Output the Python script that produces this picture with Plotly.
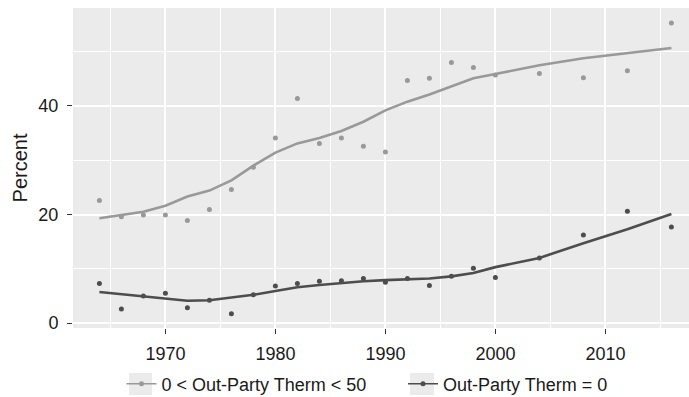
import plotly.graph_objects as go

# Survey years
years = [1964, 1966, 1968, 1970, 1972, 1974, 1976, 1978, 1980, 1982, 1984,
         1986, 1988, 1990, 1992, 1994, 1996, 1998, 2000, 2004, 2008, 2012, 2016]

# Share rating the out-party between 0 and 50 (points and smoothed trend)
cool_pts = [22.6, 19.6, 19.9, 19.9, 18.9, 20.9, 24.6, 28.7, 34.1, 41.4, 33.1,
            34.1, 32.6, 31.5, 44.7, 45.1, 48.0, 47.1, 45.7, 46.0, 45.2, 46.5, 55.3]
cool_fit = [19.3, 19.9, 20.5, 21.6, 23.3, 24.4, 26.3, 29.0, 31.4, 33.1, 34.1,
            35.4, 37.1, 39.2, 40.8, 42.1, 43.6, 45.1, 45.9, 47.5, 48.8, 49.7, 50.7]

# Share rating the out-party at exactly 0 (points and smoothed trend)
zero_pts = [7.3, 2.6, 5.0, 5.5, 2.8, 4.2, 1.7, 5.2, 6.8, 7.3, 7.7,
            7.8, 8.2, 7.5, 8.2, 6.9, 8.6, 10.1, 8.4, 12.0, 16.2, 20.6, 17.7]
zero_fit = [5.7, 5.3, 4.8, 4.4, 4.1, 4.2, 4.7, 5.2, 5.9, 6.6, 7.0,
            7.4, 7.7, 7.9, 8.0, 8.2, 8.6, 9.2, 10.3, 12.0, 14.7, 17.3, 20.1]

series_names = ["0 < Out-Party Therm < 50", "Out-Party Therm = 0"]
light, dark = "#999999", "#4d4d4d"

W, H = 689, 397
ML, MR, MT, MB = 73, 0, 8, 69
PW, PH = W - ML - MR, H - MT - MB

def px_x(p):
    return (p - ML) / PW

def px_y(p):
    return (H - MB - p) / PH

fig = go.Figure()

for name, pts, fit, col, leg in [
    (series_names[0], cool_pts, cool_fit, light, "legend"),
    (series_names[1], zero_pts, zero_fit, dark, "legend2"),
]:
    fig.add_trace(go.Scatter(
        x=years, y=pts, mode="markers",
        marker=dict(color=col, size=5), showlegend=False, hoverinfo="skip"))
    fig.add_trace(go.Scatter(
        x=years, y=fit, mode="lines", line=dict(color=col, width=2.6),
        showlegend=False, hoverinfo="skip"))
    # legend entry: line with a point on it
    fig.add_trace(go.Scatter(
        x=[None], y=[None], mode="lines+markers", name=name,
        line=dict(color=col, width=1.6), marker=dict(color=col, size=5),
        legend=leg))

# grey key backgrounds behind the legend glyphs
for x0, x1 in [(129, 152), (410, 434)]:
    fig.add_shape(type="rect", xref="paper", yref="paper",
                  x0=px_x(x0), x1=px_x(x1), y0=px_y(395), y1=px_y(373),
                  fillcolor="#ebebeb", line_width=0, layer="below")

font = dict(family="Liberation Sans, Arial, sans-serif", color="#1a1a1a")
legend_style = dict(orientation="h", yanchor="middle", xanchor="left",
                    bgcolor="rgba(0,0,0,0)", borderwidth=0,
                    font=dict(size=18, **font), itemwidth=30)

fig.update_layout(
    width=W, height=H,
    margin=dict(l=ML, r=MR, t=MT, b=MB, pad=0, autoexpand=False),
    paper_bgcolor="white", plot_bgcolor="#ebebeb",
    font=dict(size=17, **font),
    legend=dict(x=px_x(121.5), y=px_y(384), **legend_style),
    legend2=dict(x=px_x(403), y=px_y(384), **legend_style),
    xaxis=dict(
        range=[1961.6, 2017.6], tickmode="linear", tick0=1970, dtick=10,
        showgrid=True, gridcolor="white", gridwidth=2,
        minor=dict(dtick=5, tick0=1965, showgrid=True, gridcolor="white",
                   gridwidth=1),
        ticks="outside", ticklen=5, tickcolor="#333333", tickwidth=1,
        ticklabelstandoff=4, automargin=False,
        zeroline=False, showline=False,
        tickfont=dict(size=18, **font)),
    yaxis=dict(
        range=[-0.92, 58.06], tickmode="linear", tick0=0, dtick=20,
        showgrid=True, gridcolor="white", gridwidth=2,
        minor=dict(dtick=10, tick0=0, showgrid=True, gridcolor="white",
                   gridwidth=1),
        ticks="outside", ticklen=5, tickcolor="#333333", tickwidth=1,
        ticklabelstandoff=5, automargin=False,
        zeroline=False, showline=False,
        tickfont=dict(size=18, **font),
        title=dict(text="Percent", font=dict(size=20, **font), standoff=5)),
)

fig.write_html("out.html")
